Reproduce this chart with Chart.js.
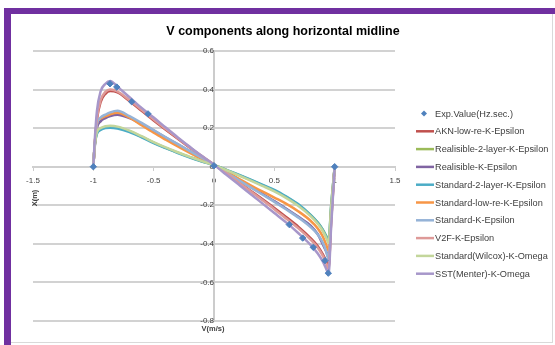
<!DOCTYPE html>
<html>
<head>
<meta charset="utf-8">
<script src="https://cdn.jsdelivr.net/npm/chart.js@4.4.0/dist/chart.umd.min.js"></script>
<style>
  html, body { margin: 0; padding: 0; background: #ffffff; }
  #frame { position: relative; width: 555px; height: 345px; overflow: hidden; background: #ffffff; }
  #topbar { position: absolute; left: 4px; top: 8px; width: 551px; height: 6px; background: #7030A0; }
  #leftbar { position: absolute; left: 4px; top: 8px; width: 7px; height: 337px; background: #7030A0; }
  #panel { position: absolute; left: 11px; top: 14px; width: 541px; height: 328px;
           border-right: 1px solid #d9d9d9; border-bottom: 1px solid #d9d9d9; }
  #c { position: absolute; left: 0; top: 0; }
</style>
</head>
<body>
<div id="frame">
  <div id="topbar"></div>
  <div id="leftbar"></div>
  <div id="panel"></div>
  <canvas id="c" width="555" height="345"></canvas>
</div>
<script>
// Horizontal position along the midline (m)
const X_POS = [-1, -0.99, -0.97, -0.94, -0.9, -0.86, -0.8, -0.7, -0.6, -0.5, -0.4, -0.3, -0.2, -0.1, 0,
               0.1, 0.2, 0.3, 0.4, 0.5, 0.6, 0.7, 0.8, 0.86, 0.9, 0.93, 0.95, 0.97, 1];

// Measured values
const EXP_X = [-1, -0.862, -0.806, -0.682, -0.547, 0, 0.624, 0.735, 0.823, 0.92, 0.947, 1];
const EXP_V = [0, 0.43, 0.413, 0.337, 0.274, 0.005, -0.30, -0.37, -0.418, -0.487, -0.552, 0];

// Model predictions of V (m/s) at X_POS
const AKN_LOW_RE = [0, 0.1, 0.245, 0.335, 0.378, 0.392, 0.385, 0.34, 0.29, 0.24, 0.192, 0.145, 0.098, 0.053, 0.011,
                    -0.032, -0.078, -0.123, -0.168, -0.214, -0.262, -0.312, -0.37, -0.412, -0.452, -0.49, -0.52, -0.29, 0];
const REAL_2LAYER = [0, 0.1, 0.175, 0.196, 0.206, 0.208, 0.204, 0.184, 0.155, 0.125, 0.098, 0.073, 0.05, 0.028, 0.009,
                     -0.016, -0.042, -0.068, -0.095, -0.124, -0.158, -0.198, -0.25, -0.29, -0.325, -0.36, -0.39, -0.21, 0];
const REAL_KE = [0, 0.09, 0.2, 0.235, 0.252, 0.263, 0.27, 0.252, 0.222, 0.187, 0.151, 0.116, 0.08, 0.045, 0.01,
                 -0.029, -0.066, -0.103, -0.14, -0.178, -0.218, -0.26, -0.305, -0.35, -0.4, -0.44, -0.47, -0.26, 0];
const STD_2LAYER = [0, 0.1, 0.17, 0.19, 0.2, 0.202, 0.198, 0.18, 0.152, 0.122, 0.096, 0.071, 0.048, 0.027, 0.008,
                    -0.015, -0.04, -0.066, -0.093, -0.12, -0.155, -0.195, -0.25, -0.29, -0.325, -0.36, -0.385, -0.21, 0];
const STD_LOW_RE = [0, 0.1, 0.225, 0.25, 0.262, 0.272, 0.28, 0.255, 0.215, 0.176, 0.14, 0.105, 0.072, 0.04, 0.01,
                    -0.025, -0.06, -0.095, -0.128, -0.16, -0.193, -0.232, -0.28, -0.32, -0.36, -0.405, -0.435, -0.24, 0];
const STD_KE = [0, 0.1, 0.22, 0.255, 0.27, 0.282, 0.29, 0.262, 0.227, 0.19, 0.153, 0.117, 0.081, 0.045, 0.01,
                -0.03, -0.068, -0.106, -0.144, -0.182, -0.222, -0.264, -0.313, -0.352, -0.392, -0.44, -0.48, -0.27, 0];
const V2F_KE = [0, 0.1, 0.25, 0.345, 0.388, 0.40, 0.39, 0.345, 0.295, 0.245, 0.196, 0.148, 0.10, 0.055, 0.012,
                -0.033, -0.08, -0.126, -0.173, -0.22, -0.27, -0.32, -0.378, -0.42, -0.46, -0.5, -0.53, -0.3, 0];
const WILCOX_KW = [0, 0.1, 0.18, 0.2, 0.21, 0.212, 0.208, 0.187, 0.158, 0.128, 0.1, 0.075, 0.051, 0.029, 0.009,
                   -0.017, -0.044, -0.071, -0.099, -0.128, -0.163, -0.204, -0.256, -0.296, -0.332, -0.368, -0.395, -0.22, 0];
const SST_KW = [0, 0.12, 0.29, 0.39, 0.43, 0.445, 0.415, 0.36, 0.305, 0.255, 0.203, 0.152, 0.103, 0.055, 0.01,
                -0.04, -0.09, -0.14, -0.19, -0.24, -0.29, -0.345, -0.405, -0.45, -0.49, -0.53, -0.555, -0.32, 0];

const SERIES_NAMES = ['Exp.Value(Hz.sec.)', 'AKN-low-re-K-Epsilon', 'Realisible-2-layer-K-Epsilon',
  'Realisible-K-Epsilon', 'Standard-2-layer-K-Epsilon', 'Standard-low-re-K-Epsilon', 'Standard-K-Epsilon',
  'V2F-K-Epsilon', 'Standard(Wilcox)-K-Omega', 'SST(Menter)-K-Omega'];

const X_TICKS = [-1.5, -1, -0.5, 0, 0.5, 1, 1.5];
const X_TICK_LABELS = ['-1.5', '-1', '-0.5', '0', '0.5', '1', '1.5'];
const Y_TICKS = [-0.8, -0.6, -0.4, -0.2, 0, 0.2, 0.4, 0.6];
const Y_TICK_LABELS = ['-0.8', '-0.6', '-0.4', '-0.2', '0', '0.2', '0.4', '0.6'];

const MODEL_VALUES = [AKN_LOW_RE, REAL_2LAYER, REAL_KE, STD_2LAYER, STD_LOW_RE, STD_KE, V2F_KE, WILCOX_KW, SST_KW];
const MODEL_COLORS = ['#C0504D', '#9BBB59', '#8064A2', '#4BACC6', '#F79646', '#95B3D7', '#DE9A98', '#C3D69B', '#A797CA'];

const FONT = '"Liberation Sans", Arial, sans-serif';

const datasets = [{
  label: SERIES_NAMES[0],
  data: EXP_X.map((x, i) => ({ x, y: EXP_V[i] })),
  showLine: false,
  pointStyle: 'rectRot',
  pointRadius: 3.2,
  pointBackgroundColor: '#4F81BD',
  pointBorderColor: '#4F81BD',
  borderColor: '#4F81BD',
  backgroundColor: '#4F81BD',
  order: -1
}];
MODEL_VALUES.forEach((vals, k) => {
  datasets.push({
    label: SERIES_NAMES[k + 1],
    data: X_POS.map((x, i) => ({ x, y: vals[i] })),
    showLine: true,
    borderColor: MODEL_COLORS[k],
    backgroundColor: MODEL_COLORS[k],
    borderWidth: 2.5,
    pointRadius: 0,
    cubicInterpolationMode: 'monotone',
    order: MODEL_VALUES.length - k
  });
});

// Series key on the right, titles for the chart and both axes
const decorations = {
  id: 'decorations',
  afterDraw(chart) {
    const ctx = chart.ctx;
    ctx.save();
    ctx.fillStyle = '#000000';
    ctx.textAlign = 'center';
    ctx.textBaseline = 'middle';
    ctx.font = 'bold 12.5px ' + FONT;
    ctx.fillText('V components along horizontal midline', 283, 32);

    ctx.font = 'bold 7.5px ' + FONT;
    ctx.fillStyle = '#404040';
    ctx.fillText('V(m/s)', 213, 329);
    ctx.save();
    ctx.translate(35, 198);
    ctx.rotate(-Math.PI / 2);
    ctx.fillText('X(m)', 0, 0);
    ctx.restore();

    ctx.font = '9.2px ' + FONT;
    ctx.textAlign = 'left';
    chart.data.datasets.forEach((ds, i) => {
      const y = 113.5 + i * 17.8;
      if (ds.showLine === false) {
        ctx.fillStyle = ds.pointBackgroundColor;
        ctx.beginPath();
        ctx.moveTo(424, y - 3); ctx.lineTo(427, y); ctx.lineTo(424, y + 3); ctx.lineTo(421, y);
        ctx.closePath();
        ctx.fill();
      } else {
        ctx.strokeStyle = ds.borderColor;
        ctx.lineWidth = 2.5;
        ctx.beginPath();
        ctx.moveTo(416, y); ctx.lineTo(434, y);
        ctx.stroke();
      }
      ctx.fillStyle = '#404040';
      ctx.fillText(ds.label, 435, y + 0.5);
    });
    ctx.restore();
  }
};

new Chart(document.getElementById('c'), {
  type: 'scatter',
  data: { datasets },
  options: {
    responsive: false,
    devicePixelRatio: 1,
    animation: false,
    layout: { padding: { left: 33, right: 160, top: 51, bottom: 24 } },
    plugins: { legend: { display: false }, title: { display: false }, tooltip: { enabled: false } },
    scales: {
      x: {
        type: 'linear',
        position: { y: 0 },
        min: -1.5, max: 1.5,
        afterBuildTicks: s => { s.ticks = X_TICKS.map(v => ({ value: v })); },
        ticks: { color: '#404040', font: { family: FONT, size: 8 }, padding: 6, maxRotation: 0, autoSkip: false,
                 callback: (v, i) => X_TICK_LABELS[i] },
        grid: { drawOnChartArea: false, drawTicks: true, tickLength: 3, color: '#cccccc', lineWidth: 1 },
        border: { display: true, color: '#cfcfcf', width: 2 }
      },
      y: {
        type: 'linear',
        position: { x: 0 },
        min: -0.8, max: 0.6,
        afterBuildTicks: s => { s.ticks = Y_TICKS.map(v => ({ value: v })); },
        ticks: { color: '#404040', font: { family: FONT, size: 8 }, padding: 3, autoSkip: false,
                 callback: (v, i) => Y_TICK_LABELS[i] },
        grid: { color: '#d2d2d2', lineWidth: 2, drawTicks: true, tickLength: 3 },
        border: { display: true, color: '#cccccc', width: 2 }
      }
    }
  },
  plugins: [decorations]
});
</script>
</body>
</html>
